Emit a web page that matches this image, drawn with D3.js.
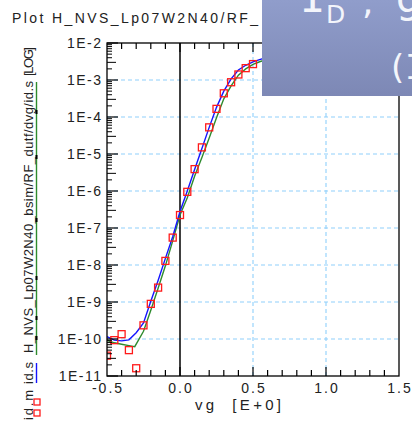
<!DOCTYPE html>
<html><head><meta charset="utf-8">
<script src="https://cdn.jsdelivr.net/npm/d3@7"></script>
<style>body{margin:0;background:#fff}svg{display:block}</style>
</head><body>
<svg id="c" width="412" height="425"></svg>
<script>
// ---- data ----
const measVg = [-0.5,-0.45,-0.4,-0.35,-0.3,-0.25,-0.2,-0.15,-0.1,-0.05,0,0.05,0.1,0.15,0.2,0.25,0.3,0.35,0.4,0.45,0.5];
const measId = [3.55e-11,9.3e-11,1.35e-10,5.0e-11,1.62e-11,2.34e-10,8.9e-10,2.45e-9,1.29e-8,5.5e-8,2.24e-7,9.5e-7,3.9e-6,1.51e-5,5.25e-5,1.66e-4,4.37e-4,8.7e-4,1.41e-3,2.09e-3,2.69e-3];
const simVg = [-0.5,-0.45,-0.4,-0.35,-0.3,-0.25,-0.2,-0.15,-0.1,-0.05,0,0.05,0.1,0.15,0.2,0.25,0.3,0.35,0.4,0.45,0.5,0.55,0.6];
const simId = [1.15e-10,9.3e-11,8.9e-11,9.5e-11,1.48e-10,2.7e-10,1.05e-9,3.8e-9,1.51e-8,5.8e-8,2.8e-7,1.0e-6,3.8e-6,1.41e-5,5.25e-5,1.82e-4,5.0e-4,1.07e-3,1.86e-3,2.5e-3,3.1e-3,3.6e-3,4.1e-3];
const refVg = [-0.5,-0.45,-0.4,-0.35,-0.31,-0.25,-0.2,-0.15,-0.1,-0.05,0,0.05,0.1,0.15,0.2,0.25,0.3,0.35,0.4,0.45,0.5,0.55,0.6];
const refId = [9.3e-11,7.9e-11,7.2e-11,6.6e-11,6.2e-11,1.62e-10,6.0e-10,2.34e-9,9.5e-9,4.5e-8,2.24e-7,6.6e-7,2.5e-6,8.1e-6,2.7e-5,9.5e-5,3.1e-4,6.9e-4,1.35e-3,2.0e-3,2.63e-3,3.16e-3,3.6e-3];
const xTicks = [-0.5,0.0,0.5,1.0,1.5];
const xTickLabels = ["-0.5","0.0","0.5","1.0","1.5"];
const yTicks = [1e-2,1e-3,1e-4,1e-5,1e-6,1e-7,1e-8,1e-9,1e-10,1e-11];
const yTickLabels = ["1E-2","1E-3","1E-4","1E-5","1E-6","1E-7","1E-8","1E-9","1E-10","1E-11"];
const titleText = "Plot H_NVS_Lp07W2N40/RF_";
const xTitle = "vg  [E+0]";
const legendTexts = ["id.m","id.s","H_NVS_Lp07W2N40_bsim/RF_dutf/dvg/id.s","[LOG]"];

// ---- layout ----
const L=107,R=399,T=43,B=376;
const svg = d3.select("#c");
const x = d3.scaleLinear().domain([-0.5,1.5]).range([L,R]);
const y = d3.scaleLog().domain([1e-11,1e-2]).range([B,T]);
const FONT = "'Liberation Sans', Arial, sans-serif";

svg.append("defs").append("clipPath").attr("id","pc")
  .append("rect").attr("x",L).attr("y",T).attr("width",R-L).attr("height",B-T);

// grid
const gridC = "#8fd0fb";
svg.append("g").selectAll("line").data(yTicks.slice(1,-1)).join("line")
  .attr("x1",L).attr("x2",R).attr("y1",d=>y(d)).attr("y2",d=>y(d))
  .attr("stroke",gridC).attr("stroke-width",1.1).attr("stroke-dasharray","4,3");
svg.append("g").selectAll("line").data([0.5,1.0]).join("line")
  .attr("x1",d=>x(d)).attr("x2",d=>x(d)).attr("y1",T).attr("y2",B)
  .attr("stroke",gridC).attr("stroke-width",1.1).attr("stroke-dasharray","4,3");

// zero line
svg.append("line").attr("x1",x(0)).attr("x2",x(0)).attr("y1",T).attr("y2",B)
  .attr("stroke","#000").attr("stroke-width",1.5);

// curves
const line = d3.line().x(d=>x(d[0])).y(d=>y(d[1]));
const gPlot = svg.append("g").attr("clip-path","url(#pc)");
gPlot.append("path").datum(d3.zip(refVg,refId)).attr("d",line)
  .attr("fill","none").attr("stroke","#2e8b2e").attr("stroke-width",1.4);
gPlot.append("path").datum(d3.zip(simVg,simId)).attr("d",line)
  .attr("fill","none").attr("stroke","#1414ff").attr("stroke-width",1.4);
gPlot.selectAll("rect.m").data(d3.zip(measVg,measId)).join("rect").attr("class","m")
  .attr("x",d=>x(d[0])-3.5).attr("y",d=>y(d[1])-3.5).attr("width",7).attr("height",7)
  .attr("fill","none").attr("stroke","#ff1a1a").attr("stroke-width",1.3);

// frame
svg.append("rect").attr("x",L).attr("y",T).attr("width",R-L).attr("height",B-T)
  .attr("fill","none").attr("stroke","#000").attr("stroke-width",1.3);

// x ticks top/bottom
const xMinor = d3.range(-4,15).map(i=>i/10);
svg.append("g").selectAll("line").data(xMinor).join("line")
  .attr("x1",d=>x(d)).attr("x2",d=>x(d)).attr("y1",T).attr("y2",d=>T+(Math.abs(d*2-Math.round(d*2))<1e-9?9:6))
  .attr("stroke","#000").attr("stroke-width",1.2);
svg.append("g").selectAll("line").data(xMinor).join("line")
  .attr("x1",d=>x(d)).attr("x2",d=>x(d)).attr("y1",B).attr("y2",d=>B-(Math.abs(d*2-Math.round(d*2))<1e-9?9:6))
  .attr("stroke","#000").attr("stroke-width",1.2);

// y ticks (log minors)
const yMinor = [];
for (let e=-11;e<-2;e++) for (let k=2;k<=9;k++) yMinor.push([k*Math.pow(10,e),k]);
svg.append("g").selectAll("line").data(yMinor).join("line")
  .attr("x1",L).attr("x2",d=>L+(d[1]===3?9:5)).attr("y1",d=>y(d[0])).attr("y2",d=>y(d[0]))
  .attr("stroke","#000").attr("stroke-width",1);
svg.append("g").selectAll("line").data(yTicks).join("line")
  .attr("x1",L).attr("x2",L+11).attr("y1",d=>y(d)).attr("y2",d=>y(d))
  .attr("stroke","#000").attr("stroke-width",1.2);

// tick labels
svg.append("g").selectAll("text").data(yTicks).join("text")
  .attr("x",102.5).attr("y",d=>y(d)).attr("dy","0.36em").attr("text-anchor","end")
  .attr("font-family",FONT).attr("font-size",14).attr("letter-spacing",1.5).attr("fill","#222")
  .text((d,i)=>yTickLabels[i]);
svg.append("g").selectAll("text").data(xTicks).join("text")
  .attr("x",d=>x(d)+1).attr("y",393).attr("text-anchor","middle")
  .attr("font-family",FONT).attr("font-size",14).attr("letter-spacing",2).attr("fill","#222")
  .text((d,i)=>xTickLabels[i]);

// titles
svg.append("text").attr("x",12).attr("y",23).attr("font-family",FONT).attr("font-size",14)
  .attr("fill","#222").attr("textLength",246).attr("lengthAdjust","spacing").text(titleText);
svg.append("text").attr("x",195).attr("y",410).attr("font-family",FONT).attr("font-size",15)
  .attr("fill","#222").attr("textLength",86).attr("lengthAdjust","spacing").attr("xml:space","preserve").text(xTitle);

// rotated legend
const legPos = [[420,30],[384,22],[353,272],[76,29]];
legendTexts.forEach((t,i)=>{
  svg.append("text").attr("transform",`translate(33,${legPos[i][0]}) rotate(-90)`)
    .attr("font-family",FONT).attr("font-size",13).attr("fill","#222")
    .attr("textLength",legPos[i][1]).attr("lengthAdjust","spacing").text(t);
});
svg.append("line").attr("x1",36.5).attr("x2",36.5).attr("y1",82).attr("y2",355)
  .attr("stroke","#2e8b2e").attr("stroke-width",1.4);
svg.append("g").selectAll("line").data([112,157,220,278,318,338]).join("line")
  .attr("x1",36.5).attr("x2",36.5).attr("y1",d=>d-2).attr("y2",d=>d+2)
  .attr("stroke","#000").attr("stroke-width",2);
svg.append("line").attr("x1",36.5).attr("x2",36.5).attr("y1",363).attr("y2",383)
  .attr("stroke","#1414ff").attr("stroke-width",1.4);
svg.append("g").selectAll("rect").data([402,413]).join("rect")
  .attr("x",34).attr("y",d=>d-3).attr("width",6).attr("height",6)
  .attr("fill","none").attr("stroke","#ff1a1a").attr("stroke-width",1.3);

// overlay box
const grad = svg.select("defs").append("linearGradient").attr("id","og").attr("x1",0).attr("x2",0).attr("y1",0).attr("y2",1);
grad.append("stop").attr("offset","0%").attr("stop-color","#909dcb");
grad.append("stop").attr("offset","100%").attr("stop-color","#7d88b5");
svg.append("rect").attr("x",262).attr("y",0).attr("width",150).attr("height",96).attr("fill","url(#og)");
const OF = "'DejaVu Sans', Verdana, sans-serif";
const wc = "#f3f5fb";
svg.append("text").attr("x",300).attr("y",12).attr("font-family","'DejaVu Sans Mono', monospace").attr("font-size",42).attr("fill",wc).text("I");
svg.append("text").attr("x",326).attr("y",23).attr("font-family",OF).attr("font-size",25).attr("fill",wc).text("D");
svg.append("text").attr("x",362).attr("y",14).attr("font-family",OF).attr("font-size",36).attr("fill",wc).text(",");
svg.append("text").attr("x",396).attr("y",12).attr("font-family",OF).attr("font-size",40).attr("fill",wc).text("g");
svg.append("text").attr("x",391).attr("y",79).attr("font-family",OF).attr("font-size",34).attr("fill",wc).text("(");
svg.append("text").attr("x",405).attr("y",79).attr("font-family","'DejaVu Sans Mono', monospace").attr("font-size",34).attr("fill",wc).text("I");
</script>
</body></html>
